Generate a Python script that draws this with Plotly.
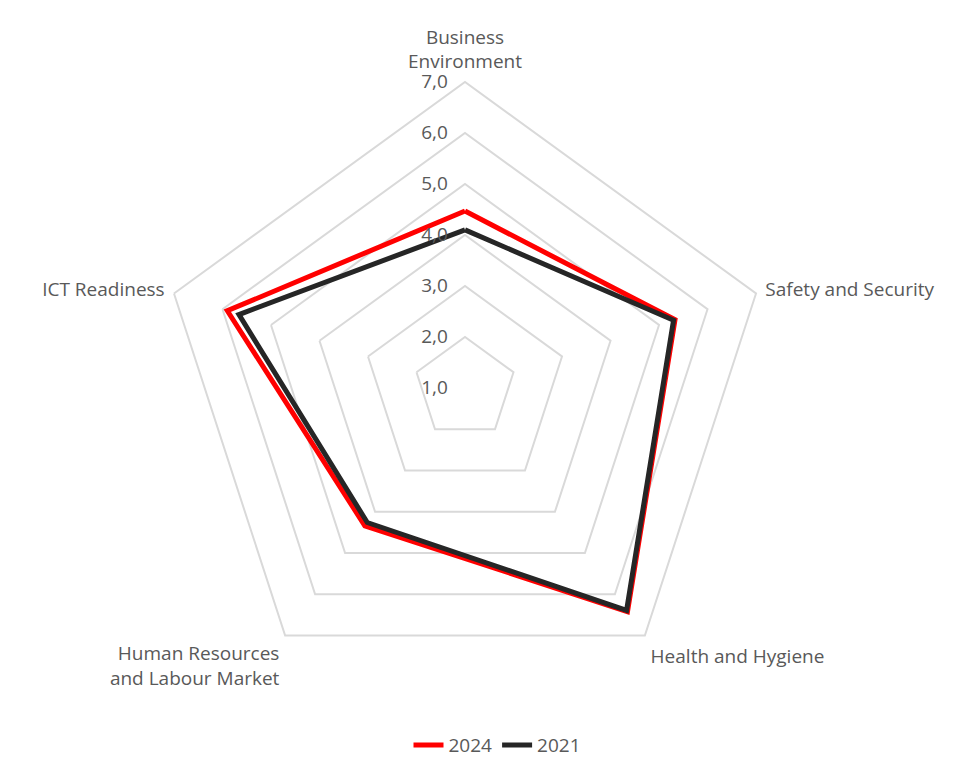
import plotly.graph_objects as go

categories = ["Business<br>Environment", "Safety and Security", "Health and Hygiene",
              "Human Resources<br>and Labour Market", "ICT Readiness"]
values_2024 = [4.47, 5.33, 6.42, 4.34, 5.90]
values_2021 = [4.10, 5.30, 6.39, 4.26, 5.66]
tick_vals = [1, 2, 3, 4, 5, 6, 7]
tick_text = ["1,0", "2,0", "3,0", "4,0", "5,0", "6,0", "7,0"]

fig = go.Figure()
fig.add_trace(go.Scatterpolar(
    r=values_2024 + values_2024[:1], theta=categories + categories[:1],
    mode="lines", name="2024", line=dict(color="#FF0000", width=5)))
fig.add_trace(go.Scatterpolar(
    r=values_2021 + values_2021[:1], theta=categories + categories[:1],
    mode="lines", name="2021", line=dict(color="#262626", width=5)))

W, H = 979, 760
cx, cy, R = 457, 380, 306
fig.update_layout(
    width=W, height=H,
    margin=dict(l=0, r=0, t=0, b=0),
    paper_bgcolor="white", plot_bgcolor="white",
    font=dict(family="Open Sans", size=18, color="#595959"),
    polar=dict(
        domain=dict(x=[(cx - R) / W, (cx + R) / W], y=[(H - cy - R) / H, (H - cy + R) / H]),
        gridshape="linear",
        bgcolor="white",
        radialaxis=dict(range=[1, 7], tickvals=tick_vals, ticktext=tick_text,
                        angle=90, tickangle=90, side="counterclockwise",
                        showline=False, ticks="outside", ticklen=10,
                        tickcolor="rgba(0,0,0,0)",
                        gridcolor="#d9d9d9", gridwidth=2,
                        tickfont=dict(size=19, color="#595959")),
        angularaxis=dict(rotation=90, direction="clockwise", showgrid=False,
                         showline=True, linecolor="#d9d9d9", linewidth=2,
                         ticks="outside", ticklen=5, tickcolor="rgba(0,0,0,0)",
                         tickfont=dict(size=19, color="#595959")),
    ),
    legend=dict(orientation="h", x=0.5, xanchor="center", y=0.005, yanchor="bottom",
                font=dict(size=19, color="#595959")),
)
fig.write_html("out.html")
